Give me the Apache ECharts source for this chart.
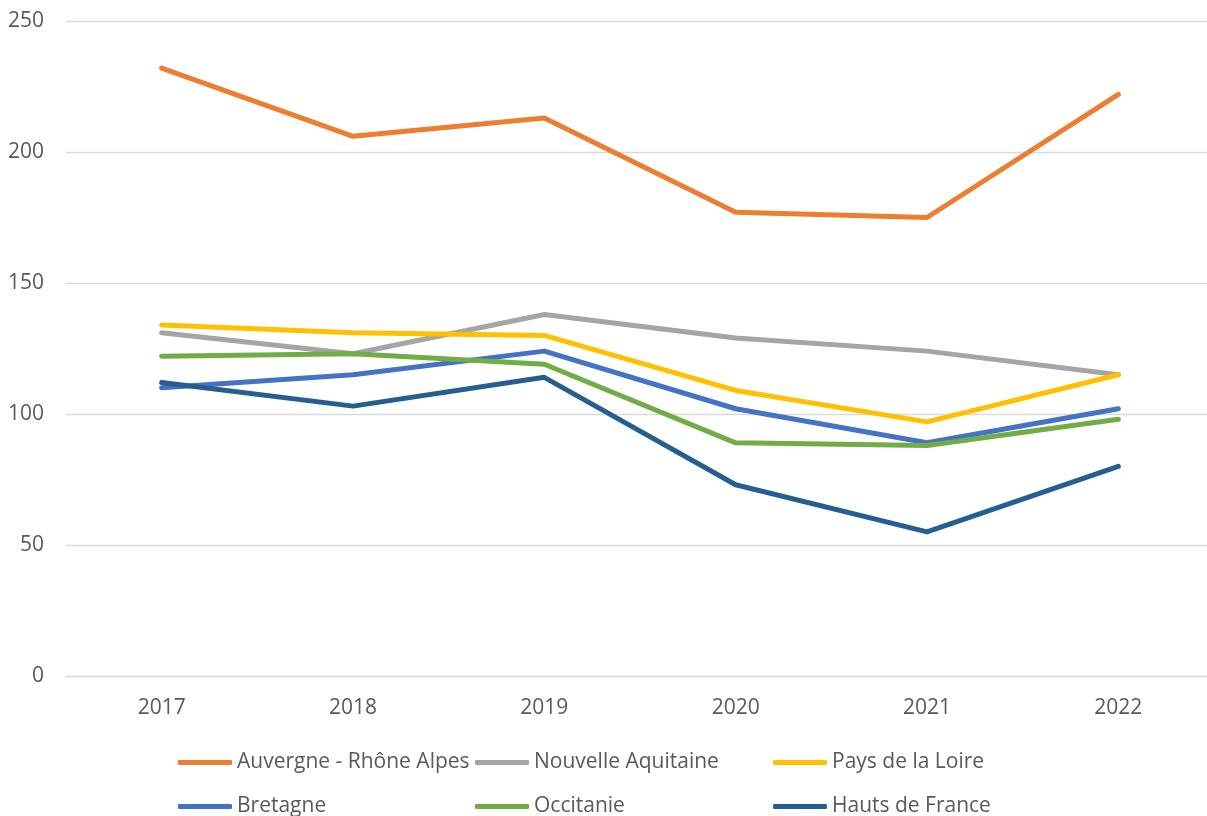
<!DOCTYPE html>
<html>
<head>
<meta charset="utf-8">
<title>Régions 2017-2022</title>
<script src="https://cdn.jsdelivr.net/npm/echarts@6/dist/echarts.min.js"></script>
<style>
	html, body { margin: 0; padding: 0; background: #ffffff; }
	#chart { width: 1207px; height: 816px; }
</style>
</head>
<body>
<div id="chart"></div>
<script>
	// données
	var annees = ['2017', '2018', '2019', '2020', '2021', '2022'];
	var auvergne = [232, 206, 213, 177, 175, 222];
	var nouvelleAquitaine = [131, 123, 138, 129, 124, 115];
	var paysLoire = [134, 131, 130, 109, 97, 115];
	var bretagne = [110, 115, 124, 102, 89, 102];
	var occitanie = [122, 123, 119, 89, 88, 98];
	var hautsFrance = [112, 103, 114, 73, 55, 80];
	var yTicks = [0, 50, 100, 150, 200, 250];

	var font = '"Open Sans", "Noto Sans", sans-serif';
	var gris = '#595959';

	var series = [
		{ name: 'Auvergne - Rhône Alpes', data: auvergne, color: '#ed7d31' },
		{ name: 'Nouvelle Aquitaine', data: nouvelleAquitaine, color: '#a5a5a5' },
		{ name: 'Pays de la Loire', data: paysLoire, color: '#ffc000' },
		{ name: 'Bretagne', data: bretagne, color: '#4472c4' },
		{ name: 'Occitanie', data: occitanie, color: '#70ad47' },
		{ name: 'Hauts de France', data: hautsFrance, color: '#255e91' }
	];
	// position des légendes (colonnes / lignes)
	var legendPos = [[178, 752], [475, 752], [773, 752], [178, 796], [475, 796], [773, 796]];

	var mychart = echarts.init(document.getElementById('chart'));
	var option = {
		animation: false,
		backgroundColor: '#ffffff',
		grid: { left: 66, width: 1148, top: 21, bottom: 140, outerBoundsMode: 'none' },
		legend: series.map(function (s, i) {
			return {
				left: legendPos[i][0],
				top: legendPos[i][1],
				padding: 0,
				data: [s.name],
				icon: 'roundRect',
				itemWidth: 54,
				itemHeight: 5,
				itemGap: 0,
				textStyle: { fontFamily: font, fontSize: 21, color: gris }
			};
		}),
		xAxis: {
			type: 'category',
			data: annees,
			boundaryGap: true,
			axisLine: { lineStyle: { color: '#d9d9d9', width: 1.3 } },
			axisTick: { show: false },
			axisLabel: { fontFamily: font, fontSize: 21, color: gris, margin: 22 }
		},
		yAxis: {
			type: 'value',
			min: yTicks[0],
			max: yTicks[yTicks.length - 1],
			interval: 50,
			axisLine: { show: false },
			axisTick: { show: false },
			splitLine: { lineStyle: { color: '#d9d9d9', width: 1.3 } },
			axisLabel: { fontFamily: font, fontSize: 21, color: gris, margin: 22 }
		},
		series: series.map(function (s) {
			return {
				name: s.name,
				type: 'line',
				data: s.data,
				symbol: 'none',
				color: s.color,
				lineStyle: { width: 5, color: s.color, cap: 'round', join: 'round' }
			};
		})
	};
	mychart.setOption(option);
</script>
</body>
</html>
